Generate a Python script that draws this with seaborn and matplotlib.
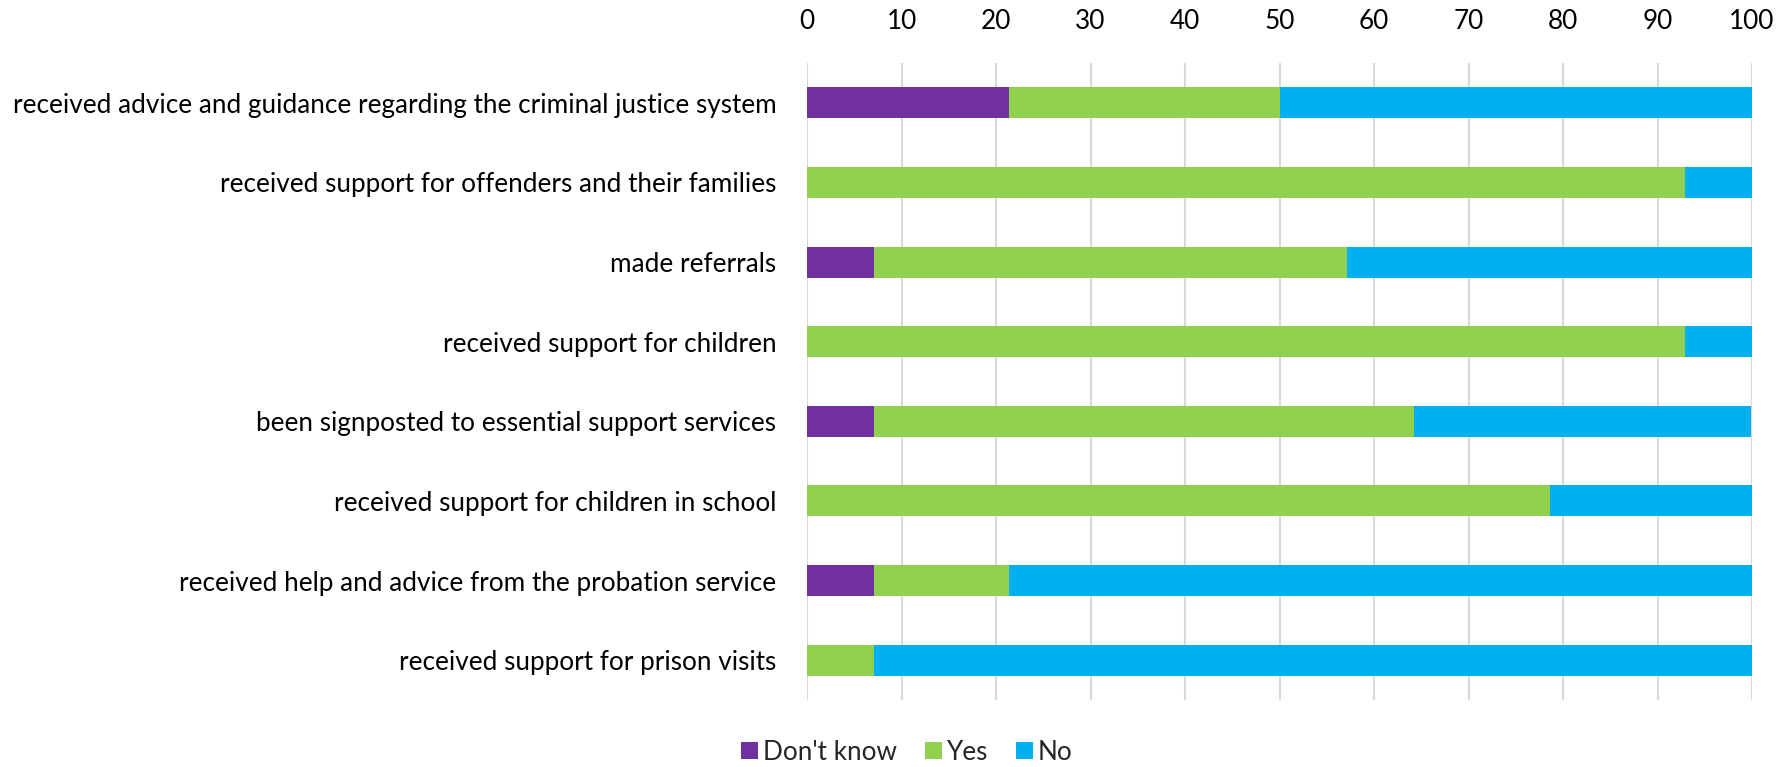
import matplotlib
matplotlib.use("Agg")
import matplotlib.pyplot as plt
from matplotlib.patches import Patch
import seaborn as sns
import pandas as pd
import numpy as np

categories = [
    "received advice and guidance regarding the criminal justice system",
    "received support for offenders and their families",
    "made referrals",
    "received support for children",
    "been signposted to essential support services",
    "received support for children in school",
    "received help and advice from the probation service",
    "received support for prison visits",
]
dont_know = [21.4, 0.0, 7.1, 0.0, 7.1, 0.0, 7.1, 0.0]
yes = [28.6, 92.9, 50.0, 92.9, 57.1, 78.6, 14.3, 7.1]
no = [50.0, 7.1, 42.9, 7.1, 35.7, 21.4, 78.6, 92.9]
series_names = ["Don't know", "Yes", "No"]
colors = ["#7030A0", "#92D050", "#00B0F0"]
x_ticks = list(range(0, 101, 10))

sns.set_theme(style="white")
plt.rcParams["font.family"] = ["Lato", "DejaVu Sans"]

df = pd.DataFrame({"category": categories, "dk": dont_know, "yes": yes, "no": no})
df["cum_dk"] = df["dk"]
df["cum_yes"] = df["dk"] + df["yes"]
df["cum_no"] = df["cum_yes"] + df["no"]

fig = plt.figure(figsize=(17.78, 7.67), dpi=100)
ax = fig.add_axes([0.4539, 0.0874, 0.9854 - 0.4539, 0.9179 - 0.0874])

# stacked segments: draw cumulative totals from the outermost inward
for col, color in zip(["cum_no", "cum_yes", "cum_dk"], colors[::-1]):
    sns.barplot(data=df, y="category", x=col, orient="h", color=color,
                width=0.39, saturation=1, linewidth=0, ax=ax, zorder=3)

fs = 18.8
ax.set_xlim(0, 100)
ax.set_ylim(7.5, -0.5)
ax.set_xticks(x_ticks)
ax.set_xticklabels([str(t) for t in x_ticks])
ax.xaxis.tick_top()
ax.tick_params(axis="x", length=0, pad=21, labelsize=fs, labelcolor="#000000")
ax.tick_params(axis="y", length=0, pad=22, labelsize=fs, labelcolor="#000000")
ax.set_xlabel("")
ax.set_ylabel("")
ax.grid(axis="x", color="#D9D9D9", linewidth=1.5, zorder=0)
ax.grid(axis="y", visible=False)
for s in ax.spines.values():
    s.set_visible(False)

handles = [Patch(facecolor=c, edgecolor="none", label=n) for n, c in zip(series_names, colors)]
fig.legend(handles=handles, loc="center", bbox_to_anchor=(0.51, 0.019),
           ncol=3, frameon=False, fontsize=fs, handlelength=0.65, handleheight=0.65,
           handletextpad=0.2, columnspacing=1.05)

fig.savefig("out.png", dpi=100)
